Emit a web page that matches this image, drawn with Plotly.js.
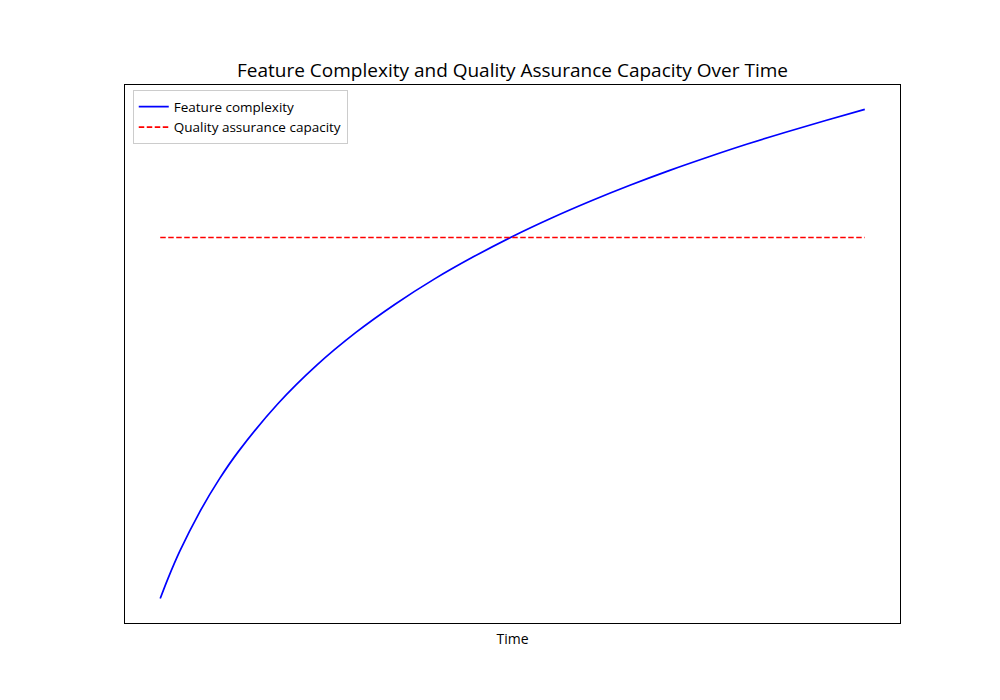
<!DOCTYPE html>
<html>
<head>
<meta charset="utf-8">
<script src="https://cdn.plot.ly/plotly-3.0.1.min.js"></script>
<style>html,body{margin:0;padding:0;background:#fff;}#chart{width:1000px;height:700px;}</style>
</head>
<body>
<div id="chart"></div>
<script>
// Values
const timeValues = [1, 1.1, 1.25, 1.5, 1.75, 2, 2.5, 3, 3.5, 4, 4.5, 5, 5.5, 6, 6.5, 7, 7.5, 8, 8.5, 9, 9.5, 10];
const featureComplexity = [0, 0.095, 0.223, 0.405, 0.560, 0.693, 0.916, 1.099, 1.253, 1.386, 1.504, 1.609, 1.705, 1.792, 1.872, 1.946, 2.015, 2.079, 2.140, 2.197, 2.251, 2.303];
const qaTime = [1, 10];
const qaCapacity = [1.70, 1.70];
const seriesNames = ["Feature complexity", "Quality assurance capacity"];

const FONT = "Open Sans, Lato, DejaVu Sans, sans-serif";

const traces = [
  {x: timeValues, y: featureComplexity, name: seriesNames[0], mode: "lines",
   line: {color: "#0000ff", width: 1.7, shape: "spline", smoothing: 1}},
  {x: qaTime, y: qaCapacity, name: seriesNames[1], mode: "lines",
   line: {color: "#ff0000", width: 1.7, dash: "5.5px,2.5px"}}
];

const layout = {
  width: 1000, height: 700,
  paper_bgcolor: "#fff", plot_bgcolor: "#fff",
  margin: {l: 125, r: 100, t: 85, b: 77},
  font: {family: FONT, color: "#000"},
  title: {text: "Feature Complexity and Quality Assurance Capacity Over Time",
          font: {size: 19, family: FONT, color: "#000"},
          x: 0.5125, xanchor: "center", y: 0.9, yanchor: "middle"},
  xaxis: {range: [0.55, 10.45], showgrid: false, zeroline: false, showticklabels: false,
          ticks: "", showline: true, linecolor: "#000", linewidth: 1, mirror: true,
          title: {text: "Time", font: {size: 14, family: FONT, color: "#000"}, standoff: 11}},
  yaxis: {range: [-0.115, 2.418], showgrid: false, zeroline: false, showticklabels: false,
          ticks: "", showline: true, linecolor: "#000", linewidth: 1, mirror: true},
  showlegend: true,
  legend: {x: 0.01, y: 0.99, xanchor: "left", yanchor: "top",
           bgcolor: "rgba(255,255,255,0.8)", bordercolor: "#cccccc", borderwidth: 1,
           font: {size: 13.5, family: FONT, color: "#000"}, tracegroupgap: 0, itemwidth: 30}
};

Plotly.newPlot("chart", traces, layout, {displayModeBar: false, staticPlot: true});
</script>
</body>
</html>
